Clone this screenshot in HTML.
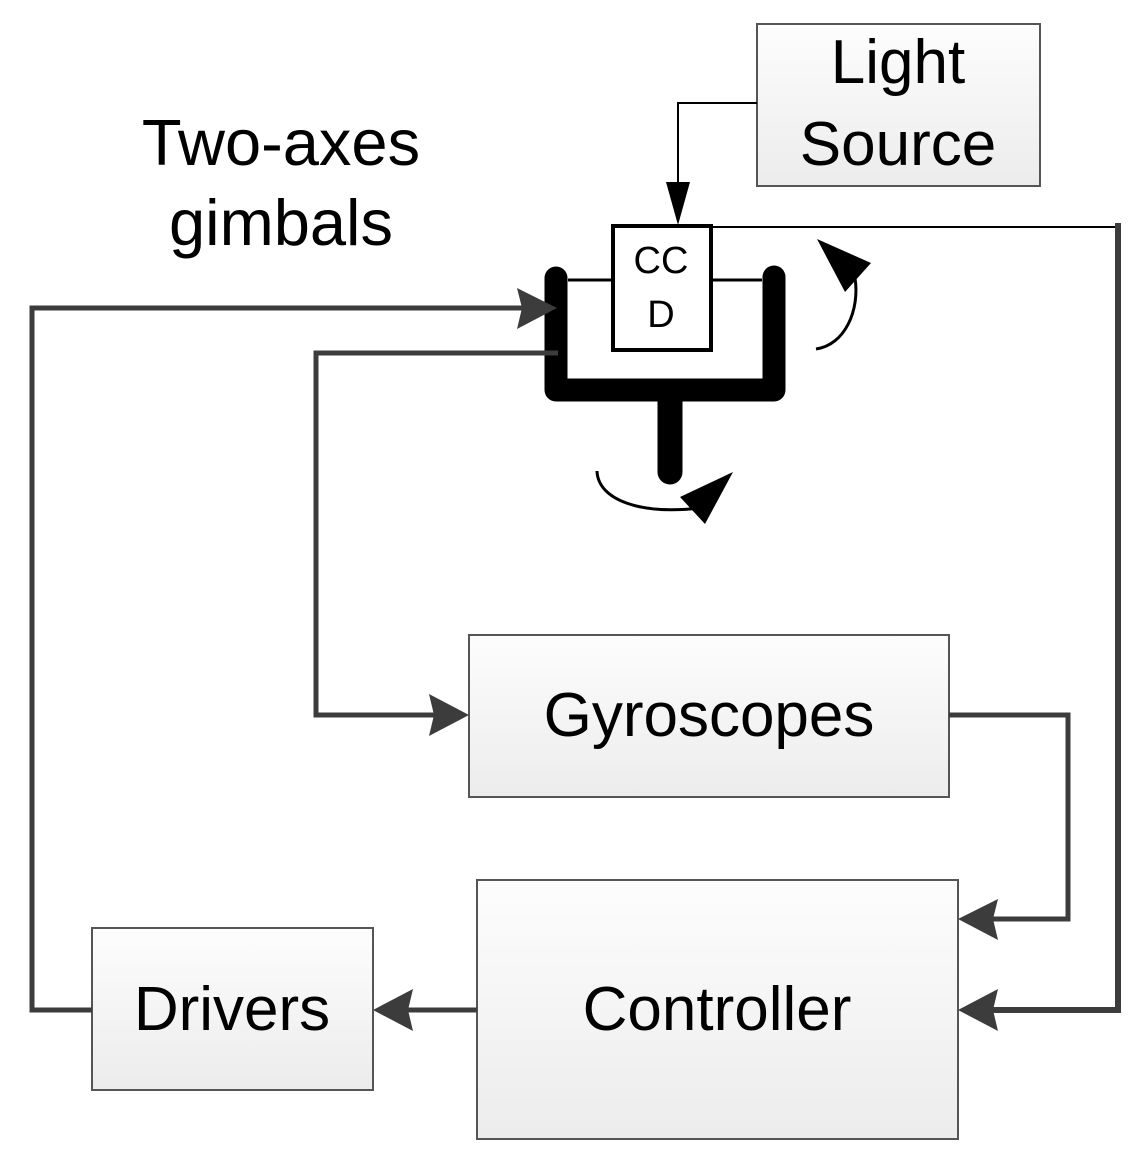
<!DOCTYPE html>
<html><head><style>body{margin:0;background:#fff}svg{display:block}text{font-family:"Liberation Sans",Arial,sans-serif;fill:#000}</style></head>
<body>
<svg width="1144" height="1162" viewBox="0 0 1144 1162" xmlns="http://www.w3.org/2000/svg">
<defs>
<linearGradient id="g" x1="0" y1="0" x2="0" y2="1"><stop offset="0" stop-color="#fdfdfd"/><stop offset="1" stop-color="#ececec"/></linearGradient>
</defs>
<rect x="757" y="24" width="283" height="162" fill="url(#g)" stroke="#555" stroke-width="2"/>
<rect x="469" y="635" width="480" height="162" fill="url(#g)" stroke="#555" stroke-width="2"/>
<rect x="477" y="880" width="481" height="259" fill="url(#g)" stroke="#555" stroke-width="2"/>
<rect x="92" y="928" width="281" height="162" fill="url(#g)" stroke="#555" stroke-width="2"/>
<text x="898" y="83" font-size="62" text-anchor="middle">Light</text>
<text x="898" y="165" font-size="62" text-anchor="middle">Source</text>
<text x="709" y="736" font-size="62" text-anchor="middle">Gyroscopes</text>
<text x="717" y="1030" font-size="62" text-anchor="middle">Controller</text>
<text x="232" y="1030" font-size="62" text-anchor="middle">Drivers</text>
<text x="281" y="165" font-size="65" text-anchor="middle">Two-axes</text>
<text x="281" y="245" font-size="65" text-anchor="middle">gimbals</text>
<polyline points="757,103 678,103 678,200" fill="none" stroke="#000" stroke-width="2"/>
<polygon points="666,182 690,182 678,225" fill="#000"/>
<line x1="711" y1="227" x2="1117" y2="227" stroke="#000" stroke-width="2"/>
<polyline points="1118,223 1118,1010 985,1010" fill="none" stroke="#3c3c3c" stroke-width="6"/>
<polygon points="958,1010 998,989 993,1010 998,1031" fill="#3c3c3c"/>
<line x1="568" y1="280" x2="612" y2="280" stroke="#000" stroke-width="3"/>
<line x1="711" y1="280" x2="762" y2="280" stroke="#000" stroke-width="3"/>
<path d="M556,278 V390 H774 V277" fill="none" stroke="#000" stroke-width="23" stroke-linecap="round" stroke-linejoin="round"/>
<line x1="670" y1="392" x2="670" y2="472" stroke="#000" stroke-width="25" stroke-linecap="round"/>
<rect x="613" y="226" width="98" height="124" fill="#fff" stroke="#000" stroke-width="4"/>
<text x="661" y="273" font-size="38" text-anchor="middle">CC</text>
<text x="661" y="327" font-size="38" text-anchor="middle">D</text>
<path d="M816,349 C845,345 860,310 855,278" fill="none" stroke="#000" stroke-width="3"/>
<polygon points="817,239 871,263 845,292" fill="#000"/>
<path d="M597,471 C598,500 640,515 700,508" fill="none" stroke="#000" stroke-width="3"/>
<polygon points="733,472 705,524 680,497" fill="#000"/>
<polyline points="92,1010 32,1010 32,308 530,308" fill="none" stroke="#3c3c3c" stroke-width="5"/>
<polygon points="557,308 517,288 522,308 517,329" fill="#3c3c3c"/>
<polyline points="558,353 316,353 316,715 442,715" fill="none" stroke="#3c3c3c" stroke-width="5"/>
<polygon points="469,715 429,694 434,715 429,736" fill="#3c3c3c"/>
<polyline points="949,715 1068,715 1068,919 985,919" fill="none" stroke="#3c3c3c" stroke-width="5"/>
<polygon points="958,919 998,899 993,919 998,940" fill="#3c3c3c"/>
<line x1="477" y1="1010" x2="400" y2="1010" stroke="#3c3c3c" stroke-width="5"/>
<polygon points="373,1010 413,989 408,1010 413,1031" fill="#3c3c3c"/>
</svg>
</body></html>
